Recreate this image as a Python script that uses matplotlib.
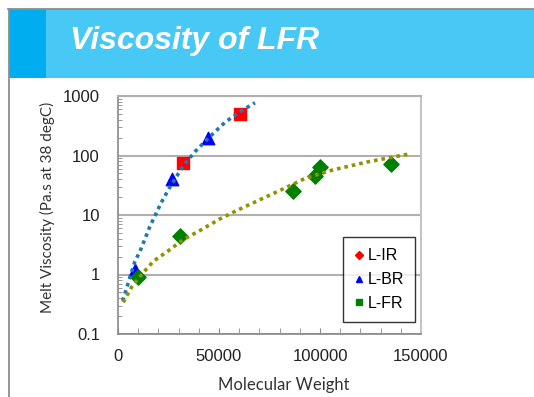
"""Viscosity of LFR: melt viscosity vs molecular weight, log-scale y."""

import matplotlib

matplotlib.use("Agg")
import matplotlib.pyplot as plt
from matplotlib.lines import Line2D
from matplotlib.patches import Rectangle
from matplotlib.ticker import FixedLocator, LogLocator, NullFormatter

W, H = 534, 397

BANNER_DARK = "#00adee"
BANNER_LIGHT = "#48c8f4"
FRAME_GRAY = "#8c8c8c"
GRID_GRAY = "#b0b0b0"

LIR_MW = [32000, 60400]
LIR_VISC = [76, 493]

LBR_MW = [8400, 26600, 44700]
LBR_VISC = [1.21, 40, 195]

LFR_MW = [10000, 30700, 86800, 97500, 100000, 135000]
LFR_VISC = [0.91, 4.4, 24.9, 45.6, 65, 71.6]

# Trendlines as drawn in the source.
TREND_BR_MW = [2300, 5100, 8400, 10900, 15800, 21300, 25400, 32300,
               38100, 45500, 53000, 60400, 67800]
TREND_BR_VISC = [0.36, 0.73, 1.67, 2.46, 6.4, 15.9, 28.4, 67,
                 116, 208, 362, 545, 770]

TREND_FR_MW = [2600, 6800, 11700, 17500, 25700, 32300, 40600, 50500,
               58800, 70300, 82700, 93000, 106600, 123100, 144600]
TREND_FR_VISC = [0.34, 0.62, 1.0, 1.67, 2.62, 3.86, 5.5, 8.6,
                 11.9, 18.1, 28.4, 41.8, 57.5, 77.4, 107]

X_TICKS = [0, 50000, 100000, 150000]
Y_TICKS = [0.1, 1, 10, 100, 1000]
Y_TICK_LABELS = ["0.1", "1", "10", "100", "1000"]
LEGEND_LABELS = ["L-IR", "L-BR", "L-FR"]


def px(x, y):
    """Pixel (from top-left) -> figure fraction."""
    return x / W, 1 - y / H


def draw_banner(fig):
    x0, y0 = px(9, 78)
    fig.patches.append(Rectangle((x0, y0), 37 / W, 69 / H, transform=fig.transFigure,
                                 facecolor=BANNER_DARK, edgecolor="none"))
    x1, _ = px(46, 78)
    fig.patches.append(Rectangle((x1, y0), 1 - x1, 69 / H, transform=fig.transFigure,
                                 facecolor=BANNER_LIGHT, edgecolor="none"))
    # thin frame round the slide
    fig.add_artist(Line2D([8 / W, 1], [1 - 8.5 / H, 1 - 8.5 / H], transform=fig.transFigure,
                          color=FRAME_GRAY, linewidth=1.3))
    fig.add_artist(Line2D([8.5 / W, 8.5 / W], [0, 1 - 8.5 / H], transform=fig.transFigure,
                          color=FRAME_GRAY, linewidth=1.3))
    tx, ty = px(70, 49)
    fig.text(tx, ty, "Viscosity of LFR", color="white", fontsize=23,
             fontweight="bold", style="italic", family="Liberation Sans",
             ha="left", va="baseline")


def main():
    fig = plt.figure(figsize=(W / 100, H / 100), dpi=100)
    draw_banner(fig)

    left, bottom = px(118, 334)
    right, top = px(421, 96)
    ax = fig.add_axes([left, bottom, right - left, top - bottom])

    ax.plot(TREND_BR_MW, TREND_BR_VISC, color="#1f78b0", linewidth=2.6,
            linestyle=(0, (1, 1.1)), dash_capstyle="butt", zorder=3)
    ax.plot(TREND_FR_MW, TREND_FR_VISC, color="#929200", linewidth=2.6,
            linestyle=(0, (1, 1.1)), dash_capstyle="butt", zorder=3)

    ax.scatter(LIR_MW, LIR_VISC, marker="s", s=70, color="#ff0000", zorder=2)
    ax.scatter(LBR_MW, LBR_VISC, marker="^", s=80, color="#0000ff", zorder=2)
    ax.scatter(LFR_MW, LFR_VISC, marker="D", s=60, color="#008000", zorder=2)

    ax.set_yscale("log")
    ax.set_xlim(0, 150000)
    ax.set_ylim(0.1, 1000)

    ax.set_xticks(X_TICKS)
    ax.set_xticklabels([str(t) for t in X_TICKS])
    ax.xaxis.set_minor_locator(FixedLocator(range(0, 150001, 10000)))
    ax.set_yticks(Y_TICKS)
    ax.set_yticklabels(Y_TICK_LABELS)
    ax.yaxis.set_minor_locator(LogLocator(base=10, subs=range(2, 10)))
    ax.yaxis.set_minor_formatter(NullFormatter())

    for lab in ax.get_xticklabels() + ax.get_yticklabels():
        lab.set_family("Liberation Sans")
        lab.set_fontsize(12)
        lab.set_color("#222222")
    ax.tick_params(axis="both", which="both", direction="in", color="#888888")
    ax.tick_params(axis="x", which="both", length=4, pad=11)
    ax.tick_params(axis="y", which="major", length=0, pad=13)
    ax.tick_params(axis="y", which="minor", length=3)

    ax.grid(axis="y", which="major", color=GRID_GRAY, linewidth=1.5)
    for side in ("left", "bottom"):
        ax.spines[side].set_color("#888888")
        ax.spines[side].set_linewidth(1.2)
    ax.spines["right"].set_color("#c4c4c4")
    ax.spines["right"].set_linewidth(1.5)
    ax.spines["top"].set_color(GRID_GRAY)
    ax.spines["top"].set_linewidth(1.5)

    handles = [
        Line2D([], [], linestyle="none", marker="D", markersize=4, color="#ff0000"),
        Line2D([], [], linestyle="none", marker="^", markersize=5, color="#0000ff"),
        Line2D([], [], linestyle="none", marker="s", markersize=4, color="#008000"),
    ]
    leg = ax.legend(handles, LEGEND_LABELS, loc="lower right",
                    bbox_to_anchor=(0.98, 0.05), frameon=True, fancybox=False,
                    prop={"family": "Liberation Sans", "size": 11.5},
                    handlelength=0.6, handletextpad=0.25, labelspacing=0.55,
                    borderpad=0.7, borderaxespad=0.0)
    leg.get_frame().set_edgecolor("black")
    leg.get_frame().set_linewidth(1.0)

    xl, yl = px(284, 385)
    fig.text(xl, yl, "Molecular Weight", family="Lato", fontsize=12,
             color="#333333", ha="center", va="center")
    yx, yy = px(47, 207)
    fig.text(yx, yy, "Melt Viscosity (Pa.s at 38 degC)", family="Lato", fontsize=11,
             color="#333333", ha="center", va="center", rotation=90)

    fig.savefig("out.png", dpi=100)
    plt.close(fig)


if __name__ == "__main__":
    main()
